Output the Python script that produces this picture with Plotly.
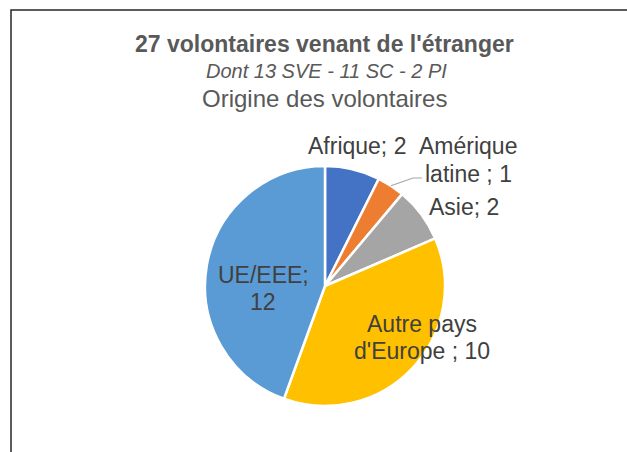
import math
import plotly.graph_objects as go

# ---- data ----
categories = ["Afrique", "Amérique latine ", "Asie", "Autre pays d'Europe ", "UE/EEE"]
values = [2, 1, 2, 10, 12]
colors = ["#4472C4", "#ED7D31", "#A5A5A5", "#FFC000", "#5B9BD5"]
# how each data label is wrapped (line split of "category; value")
label_lines = [
    ["Afrique; 2"],
    ["Amérique", "latine ; 1"],
    ["Asie; 2"],
    ["Autre pays", "d'Europe ; 10"],
    ["UE/EEE;", "12"],
]
title_main = "27 volontaires venant de l'étranger"
title_sub = "Dont 13 SVE - 11 SC - 2 PI"
title_chart = "Origine des volontaires"

W, H = 627, 452
OFF = 0  # body margin removed via post_script
CX, CY, R = 325, 286, 120

def px(x):
    return (x - OFF) / W

def py(y):
    return 1 - (y - OFF) / H

fig = go.Figure()
fig.add_trace(go.Pie(
    labels=categories,
    values=values,
    sort=False,
    direction="clockwise",
    rotation=0,
    marker=dict(colors=colors, line=dict(color="white", width=2.5)),
    textinfo="none",
    hoverinfo="label+value",
    showlegend=False,
    domain=dict(x=[px(CX - R), px(CX + R)], y=[py(CY + R), py(CY - R)]),
))

LABEL_FONT = dict(family="Liberation Sans, Arial, sans-serif", size=23, color="#404040")
# label line centres (pixels) per slice
label_pos = [
    [(357, 146)],
    [(468, 146), (468, 174)],
    [(464, 207)],
    [(422, 324), (422, 351)],
    [(263, 275), (263, 302)],
]
annotations = []
for lines, poss in zip(label_lines, label_pos):
    for t, (x, y) in zip(lines, poss):
        annotations.append(dict(text=t, x=px(x), y=py(y), xref="paper", yref="paper",
                                xanchor="center", yanchor="middle", showarrow=False,
                                font=LABEL_FONT))

TFONT = "Liberation Sans, Arial, sans-serif"
annotations += [
    dict(text="<b>" + title_main + "</b>", x=px(324), y=py(44), xref="paper", yref="paper",
         xanchor="center", yanchor="middle", showarrow=False,
         font=dict(family=TFONT, size=23, color="#595959")),
    dict(text="<i>" + title_sub + "</i>", x=px(326), y=py(71), xref="paper", yref="paper",
         xanchor="center", yanchor="middle", showarrow=False,
         font=dict(family=TFONT, size=20, color="#595959")),
    dict(text=title_chart, x=px(324), y=py(98), xref="paper", yref="paper",
         xanchor="center", yanchor="middle", showarrow=False,
         font=dict(family=TFONT, size=24, color="#595959")),
]

# leader line for the small "Amérique latine" slice, starting at the slice's mid-angle on the rim
total = sum(values)
before = sum(values[:1])
mid = (before + values[1] / 2) / total * 2 * math.pi
sx = CX + R * math.sin(mid)
sy = CY - R * math.cos(mid)
shapes = [
    dict(type="path", xref="paper", yref="paper",
         path=f"M {px(sx)},{py(sy)} L {px(413)},{py(178)} L {px(422)},{py(178)}",
         line=dict(color="#A6A6A6", width=1.2)),
    dict(type="rect", xref="paper", yref="paper",
         x0=px(11), y0=py(10), x1=px(W + 20), y1=py(H + 20),
         line=dict(color="#262626", width=1.5), fillcolor="rgba(0,0,0,0)"),
]

fig.update_layout(
    width=W, height=H,
    margin=dict(l=0, r=0, t=0, b=0),
    paper_bgcolor="white", plot_bgcolor="white",
    annotations=annotations,
    shapes=shapes,
)
fig.write_html(
    "out.html",
    config={"displayModeBar": False},
    post_script="document.body.style.margin='0';document.body.style.overflow='hidden';"
                "document.documentElement.style.overflow='hidden';",
)
